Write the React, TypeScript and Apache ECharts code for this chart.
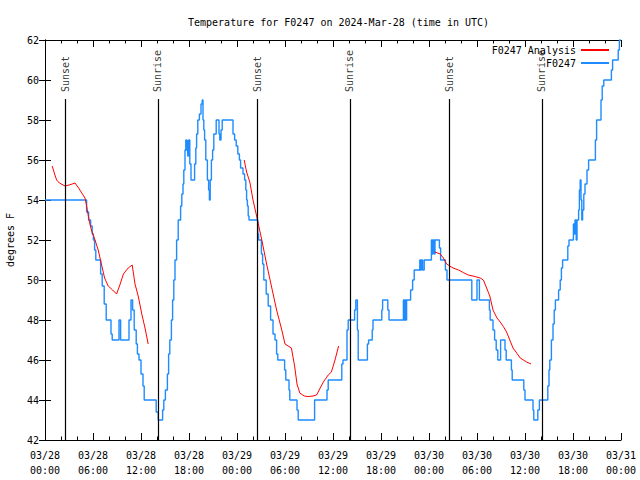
import React, { useEffect, useRef } from "react";
import * as echarts from "echarts";

// hours since 2024-03-28 00:00 UTC, temperature (°F)
const stationObs: [number, number][] = [
  [0, 54], [5.2, 53.4], [5.45, 53], [5.7, 52.7], [5.9, 52.3], [6.05, 52], [6.2, 51.5], [6.35, 51],
  [6.95, 50.3], [7.15, 49.7], [7.4, 48.8], [7.65, 48], [8.25, 47.3], [8.4, 47], [9.25, 48], [9.45, 47],
  [10.5, 48], [10.75, 49], [10.95, 48.5], [11.15, 47.5], [11.4, 46.8], [11.55, 46.3], [11.75, 46],
  [12.0, 45.3], [12.25, 44.7], [12.4, 44], [13.9, 43.4], [14.15, 43], [14.7, 43.5], [14.85, 44],
  [15.05, 44.5], [15.3, 45.3], [15.45, 46.3], [15.6, 47], [15.8, 48], [15.95, 49], [16.1, 50],
  [16.25, 51], [16.45, 52], [16.65, 53], [16.95, 53.7], [17.1, 54.3], [17.25, 54.8], [17.35, 55.5],
  [17.5, 56.5], [17.6, 57], [17.7, 56.5], [17.8, 57], [17.85, 56.2], [17.95, 57], [18.1, 55.8],
  [18.25, 55], [18.7, 55.8], [18.85, 56.6], [18.95, 57.3], [19.1, 58], [19.3, 58.3], [19.5, 58.8],
  [19.65, 59], [19.75, 58], [19.85, 57.5], [19.95, 57], [20.1, 56], [20.3, 55], [20.45, 54.5],
  [20.55, 54], [20.65, 55], [20.8, 56], [20.95, 56.5], [21.1, 57.3], [21.4, 58], [21.75, 57.3],
  [21.85, 57], [22.0, 57.5], [22.15, 58], [23.5, 57.3], [23.7, 57], [23.9, 56.7], [24.1, 56.3],
  [24.3, 56], [24.45, 55.6], [24.75, 55.3], [24.95, 55], [25.1, 54.5], [25.2, 54], [25.3, 53.7],
  [25.4, 53.2], [25.5, 53], [26.6, 52.3], [26.7, 52], [27.05, 51.3], [27.2, 50.8], [27.35, 50],
  [27.65, 49.3], [27.9, 48.7], [28.2, 48], [28.5, 47.3], [28.75, 47], [28.95, 46.3], [29.1, 46],
  [29.95, 45.5], [30.1, 45], [30.5, 44.5], [30.6, 44], [31.5, 43.5], [31.65, 43], [33.7, 44],
  [35.25, 44.5], [35.4, 45], [37.1, 45.8], [37.25, 46], [37.75, 47.5], [37.9, 48], [38.7, 48.5],
  [38.85, 49], [39.05, 47.5], [39.15, 46], [40.3, 46.8], [40.45, 47], [40.9, 47.5], [41.0, 48],
  [42.1, 48.5], [42.2, 49], [42.85, 48.5], [43.0, 48], [44.8, 49], [44.9, 48], [45.0, 49],
  [45.1, 48], [45.2, 49], [45.7, 49.5], [45.95, 50], [46.15, 50.5], [46.85, 51], [46.95, 50.5],
  [47.05, 51], [47.2, 50.5], [47.4, 51], [48.3, 52], [48.4, 51.3], [48.5, 52], [48.65, 51.3],
  [48.75, 52], [49.3, 51.6], [49.45, 51], [50.05, 50.5], [50.25, 50], [53.35, 49], [54.0, 50],
  [54.3, 49], [55.55, 48.5], [55.65, 48], [56.0, 47.5], [56.2, 47], [56.4, 46.5], [56.6, 46],
  [56.95, 47], [57.5, 46.5], [57.65, 46], [58.3, 45.5], [58.4, 45], [59.85, 44.5], [60.0, 44],
  [61.0, 43.5], [61.1, 43], [61.6, 43.5], [61.8, 44], [62.85, 44.7], [63.0, 45.5], [63.1, 46],
  [63.3, 47], [63.5, 47.8], [63.65, 48.5], [63.8, 49], [64.2, 49.5], [64.4, 50], [64.55, 50.6],
  [64.7, 51], [65.35, 51.7], [65.5, 52], [66.05, 52.8], [66.15, 52.3], [66.25, 53], [66.4, 52],
  [66.5, 53], [66.7, 53.5], [66.8, 54.5], [66.9, 55], [67.0, 54], [67.1, 53], [67.2, 53.5],
  [67.35, 54.3], [67.5, 54.8], [67.75, 55.5], [67.95, 56], [68.8, 57], [68.95, 58], [69.5, 59],
  [69.65, 59.7], [69.85, 60], [70.8, 60.5], [70.95, 61], [71.65, 61.5], [71.8, 62], [72, 62],
];

const analysisRun1: [number, number][] = [
  [0.9, 55.7], [1.2, 55.3], [1.45, 55], [1.8, 54.85], [2.5, 54.7], [3.0, 54.75], [3.4, 54.8],
  [3.75, 54.85], [4.2, 54.6], [4.6, 54.35], [5.0, 54.1], [5.2, 53.7], [5.5, 53], [5.8, 52.5],
  [6.25, 52], [6.65, 51.5], [7.05, 50.8], [7.45, 50.1], [7.9, 49.7], [8.45, 49.5], [8.95, 49.3],
  [9.4, 49.8], [9.8, 50.3], [10.4, 50.6], [10.9, 50.75], [11.25, 49.8], [11.65, 49.2], [12.1, 48.3],
  [12.5, 47.6], [12.9, 46.8],
];
const analysisRun2: [number, number][] = [
  [24.9, 56], [25.2, 55.4], [25.6, 54.9], [26.0, 54], [26.45, 53.2], [27.1, 52], [27.7, 50.8],
  [28.3, 49.7], [28.95, 48.5], [29.6, 47.5], [30.0, 46.8], [30.8, 46.6], [31.2, 45.7], [31.5, 44.8],
  [31.85, 44.35], [32.4, 44.2], [32.9, 44.17], [33.5, 44.2], [33.95, 44.25], [34.4, 44.6],
  [34.8, 44.9], [35.4, 45.25], [35.8, 45.4], [36.25, 46], [36.7, 46.7],
];
const analysisRun3: [number, number][] = [
  [48.75, 51.4], [49.4, 51.3], [49.8, 51.1], [50.2, 50.8], [50.6, 50.7], [51.0, 50.6], [51.7, 50.5],
  [52.3, 50.37], [52.9, 50.25], [53.5, 50.2], [54.4, 50.1], [54.8, 50], [55.2, 49.6], [55.6, 49.2],
  [56.0, 48.5], [56.5, 48.1], [56.9, 47.9], [57.3, 47.67], [57.7, 47.4], [58.1, 47], [58.5, 46.6],
  [59.0, 46.33], [59.4, 46.1], [59.8, 46], [60.2, 45.9], [60.75, 45.8],
];

const sunHours = [2.5, 14.1, 26.5, 38.1, 50.5, 62.1];
const sunLabels = ["Sunset", "Sunrise", "Sunset", "Sunrise", "Sunset", "Sunrise"];
const sunLineTop = 59.05;
const sunLabelBase = 59.4;

const xTickLabels = [
  "03/28\n00:00", "03/28\n06:00", "03/28\n12:00", "03/28\n18:00", "03/29\n00:00",
  "03/29\n06:00", "03/29\n12:00", "03/29\n18:00", "03/30\n00:00", "03/30\n06:00",
  "03/30\n12:00", "03/30\n18:00", "03/31\n00:00",
];

const FONT = "DejaVu Sans Mono";

export default function App() {
  const ref = useRef<HTMLDivElement>(null);
  useEffect(() => {
    if (!ref.current) return;
    const chart = echarts.init(ref.current, null, { renderer: "svg" });
    const analysisData: any[] = [
      ...analysisRun1, [13, "-"], ...analysisRun2, [40, "-"], ...analysisRun3,
    ];
    const axisCommon = {
      axisLine: { show: true, lineStyle: { color: "#000", width: 1 } },
      splitLine: { show: false },
    };
    chart.setOption({
      animation: false,
      backgroundColor: "#fff",
      title: {
        text: "Temperature for F0247 on 2024-Mar-28 (time in UTC)",
        left: 183,
        top: 12,
        textStyle: { fontFamily: FONT, fontSize: 10, fontWeight: "normal", color: "#000" },
      },
      legend: {
        data: ["F0247 Analysis", "F0247"],
        orient: "vertical",
        right: 25,
        top: 40,
        align: "right",
        itemWidth: 28,
        itemHeight: 10,
        itemGap: 3,
        itemStyle: { opacity: 0 },
        textStyle: { fontFamily: FONT, fontSize: 10, color: "#000" },
      },
      grid: { left: 45, right: 19, top: 40, bottom: 40, containLabel: false, outerBoundsMode: "none" },
      xAxis: [
        {
          type: "value", position: "bottom", min: 0, max: 72, interval: 6,
          ...axisCommon,
          axisTick: { show: true, inside: true, length: 7, lineStyle: { color: "#000" } },
          minorTick: { show: true, splitNumber: 3, length: 3.5, lineStyle: { color: "#000" } },
          axisLabel: {
            formatter: (v: number) => xTickLabels[Math.round(v / 6)] ?? "",
            fontFamily: FONT, fontSize: 10, color: "#000", lineHeight: 15, margin: 8,
          },
        },
        {
          type: "value", position: "top", min: 0, max: 72, interval: 6,
          ...axisCommon,
          axisTick: { show: true, inside: true, length: 7, lineStyle: { color: "#000" } },
          minorTick: { show: true, splitNumber: 3, length: 3.5, lineStyle: { color: "#000" } },
          axisLabel: { show: false },
        },
      ],
      yAxis: [
        {
          type: "value", position: "left", min: 42, max: 62, interval: 2,
          ...axisCommon,
          name: "degrees F", nameLocation: "middle", nameGap: 30, nameRotate: 90,
          nameTextStyle: { fontFamily: FONT, fontSize: 10, color: "#000" },
          axisTick: { show: true, inside: true, length: 6, lineStyle: { color: "#000" } },
          axisLabel: { fontFamily: FONT, fontSize: 10, color: "#000", margin: 6 },
        },
        {
          type: "value", position: "right", min: 42, max: 62, interval: 2,
          ...axisCommon,
          axisTick: { show: true, inside: true, length: 6, lineStyle: { color: "#000" } },
          axisLabel: { show: false },
        },
      ],
      series: [
        {
          name: "F0247 Analysis",
          type: "line",
          data: analysisData,
          showSymbol: false,
          symbol: "none",
          connectNulls: false,
          lineStyle: { color: "#ff0000", width: 1 },
          itemStyle: { color: "#ff0000" },
          z: 3,
        },
        {
          name: "F0247",
          type: "line",
          step: "end",
          data: stationObs,
          showSymbol: false,
          symbol: "none",
          lineStyle: { color: "#1e8cff", width: 1.4 },
          itemStyle: { color: "#1e8cff" },
          z: 2,
        },
        {
          name: "sun",
          type: "scatter",
          symbolSize: 0,
          data: sunHours.map((h, i) => ({ value: [h, sunLabelBase], name: sunLabels[i] })),
          label: {
            show: true,
            formatter: (p: any) => p.name,
            position: "inside",
            rotate: 90,
            align: "left",
            verticalAlign: "middle",
            fontFamily: FONT,
            fontSize: 10,
            color: "#000",
          },
          markLine: {
            silent: true,
            symbol: ["none", "none"],
            label: { show: false },
            lineStyle: { color: "#000", width: 1.2, type: "solid" },
            data: sunHours.map((h) => [{ coord: [h, 42] }, { coord: [h, sunLineTop] }]),
          },
          z: 4,
        },
      ],
    });
    return () => chart.dispose();
  }, []);
  return (
    <div
      ref={ref}
      style={{ position: "fixed", left: 0, top: 0, width: 640, height: 480, background: "#fff" }}
    />
  );
}
